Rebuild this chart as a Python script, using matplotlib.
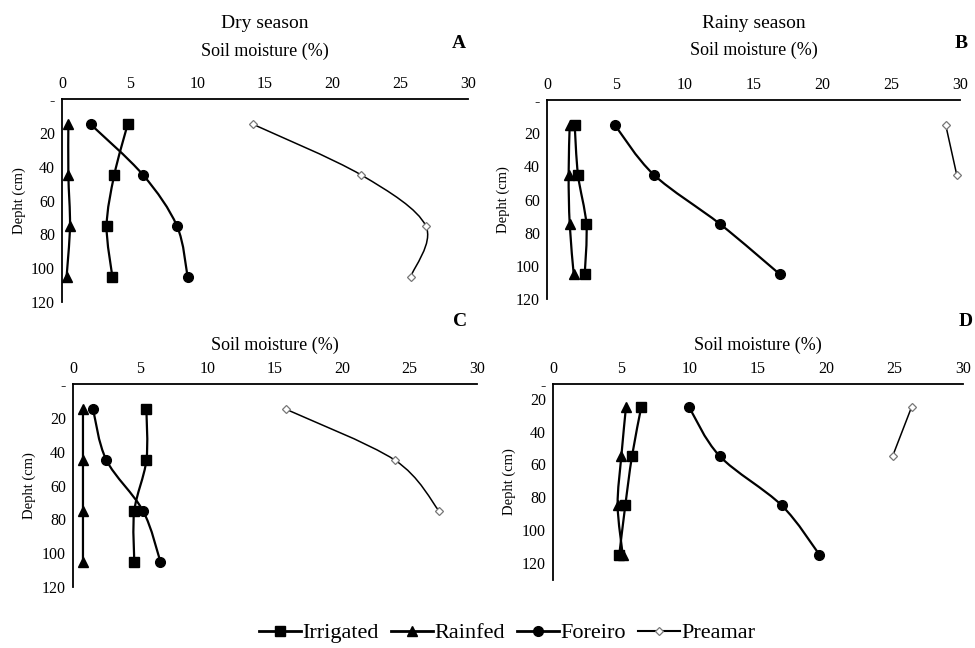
import matplotlib
matplotlib.use("Agg")
import matplotlib.pyplot as plt
from matplotlib.path import Path
from matplotlib.patches import PathPatch
from matplotlib.lines import Line2D
import numpy as np

plt.rcParams['font.family'] = ['Liberation Serif', 'DejaVu Serif']

# ---- data ----
series_names = ["Irrigated", "Rainfed", "Foreiro", "Preamar"]

depth_A = [15, 45, 75, 105]
irrigated_A = [4.85, 3.86, 3.30, 3.72]
rainfed_A = [0.47, 0.47, 0.59, 0.34]
foreiro_A = [2.12, 6.0, 8.49, 9.28]
preamar_A = [14.13, 22.13, 26.88, 25.77]

depth_B = [15, 45, 75, 105]
irrigated_B = [2.01, 2.25, 2.86, 2.74]
rainfed_B = [1.65, 1.57, 1.65, 1.94]
foreiro_B = [4.92, 7.75, 12.6, 16.9]
preamar_B = [28.96, 29.76]

depth_C = [15, 45, 75, 105]
irrigated_C = [5.45, 5.45, 4.55, 4.55]
rainfed_C = [0.74, 0.74, 0.74, 0.74]
foreiro_C = [1.49, 2.48, 5.2, 6.49]
preamar_C = [15.84, 23.9, 27.18]

depth_D = [25, 55, 85, 115]
irrigated_D = [6.46, 5.78, 5.29, 4.85]
rainfed_D = [5.34, 5.0, 4.73, 5.1]
foreiro_D = [9.95, 12.2, 16.73, 19.49]
preamar_D = [26.24, 24.85]

x_ticks = [0, 5, 10, 15, 20, 25, 30]
y_tick_labels = ["-", "20", "40", "60", "80", "100", "120"]

# ---- styles ----
styles = {
    "Irrigated": dict(marker='s', ms=6.5, mfc='black', mec='black', lw=1.6, color='black'),
    "Rainfed": dict(marker='^', ms=6.5, mfc='black', mec='black', lw=1.6, color='black'),
    "Foreiro": dict(marker='o', ms=7, mfc='black', mec='black', lw=1.6, color='black'),
    "Preamar": dict(marker='D', ms=4.5, mfc='white', mec='#777777', mew=0.9, lw=1.1, color='black'),
}


def smooth_path(xs, ys):
    """Excel-like smoothed line (Catmull-Rom as cubic Bezier) through the data."""
    pts = np.column_stack([xs, ys]).astype(float)
    n = len(pts)
    if n < 2:
        return None
    verts = [pts[0]]
    codes = [Path.MOVETO]
    for i in range(n - 1):
        p0 = pts[i - 1] if i > 0 else pts[i]
        p1 = pts[i]
        p2 = pts[i + 1]
        p3 = pts[i + 2] if i + 2 < n else pts[i + 1]
        c1 = p1 + (p2 - p0) / 6.0
        c2 = p2 - (p3 - p1) / 6.0
        verts += [c1, c2, p2]
        codes += [Path.CURVE4] * 3
    return Path(verts, codes)


fig = plt.figure(figsize=(9.75, 6.48), dpi=100)
W, H = 975.0, 648.0


def make_ax(l, r, t, b):
    return fig.add_axes([l / W, 1 - b / H, (r - l) / W, (b - t) / H])


panels = [
    dict(box=(62, 468, 99, 302), ylim=(120, 0), yticks=[0, 20, 40, 60, 80, 100, 120],
         depth=depth_A, data=[irrigated_A, rainfed_A, foreiro_A, preamar_A],
         title="Dry season", title_y=23, xl_y=51, letter="A", letter_xy=(459, 43)),
    dict(box=(547, 960, 100, 299), ylim=(120, 0), yticks=[0, 20, 40, 60, 80, 100, 120],
         depth=depth_B, data=[irrigated_B, rainfed_B, foreiro_B, preamar_B],
         title="Rainy season", title_y=23, xl_y=50, letter="B", letter_xy=(961, 43)),
    dict(box=(73, 477, 384, 587), ylim=(120, 0), yticks=[0, 20, 40, 60, 80, 100, 120],
         depth=depth_C, data=[irrigated_C, rainfed_C, foreiro_C, preamar_C],
         title=None, title_y=None, xl_y=345, letter="C", letter_xy=(460, 321)),
    dict(box=(553, 963, 384, 580), ylim=(130.5, 11), yticks=[11, 20, 40, 60, 80, 100, 120],
         depth=depth_D, data=[irrigated_D, rainfed_D, foreiro_D, preamar_D],
         title=None, title_y=None, xl_y=345, letter="D", letter_xy=(966, 321)),
]

for p in panels:
    l, r, t, b = p["box"]
    ax = make_ax(l, r, t, b)
    ax.set_xlim(0, 30)
    ax.set_ylim(*p["ylim"])
    for name, vals in zip(series_names, p["data"]):
        st = styles[name]
        d = p["depth"][:len(vals)]
        path = smooth_path(vals, d)
        if path is not None:
            patch = PathPatch(path, facecolor='none', edgecolor=st['color'], lw=st['lw'],
                              transform=ax.transData, zorder=2, clip_on=False)
            ax.add_patch(patch)
        ax.plot(vals, d, ls='none', marker=st['marker'], ms=st['ms'], mfc=st['mfc'],
                mec=st['mec'], mew=st.get('mew', 1.0), zorder=3, clip_on=False)
    for s in ['right', 'bottom']:
        ax.spines[s].set_visible(False)
    ax.spines['left'].set_linewidth(1.3)
    ax.spines['top'].set_linewidth(1.3)
    ax.xaxis.tick_top()
    ax.set_xticks(x_ticks)
    ax.set_xticklabels([str(v) for v in x_ticks])
    ax.set_yticks(p["yticks"])
    ax.set_yticklabels(y_tick_labels)
    ax.tick_params(axis='both', length=0, labelsize=11.5, pad=5)
    ax.set_ylabel("Depht (cm)", fontsize=10.5, labelpad=4)
    cx = (l + r) / 2.0 / W
    if p["title"]:
        fig.text(cx, 1 - p["title_y"] / H, p["title"], ha='center', va='center', fontsize=14)
    fig.text(cx, 1 - p["xl_y"] / H, "Soil moisture (%)", ha='center', va='center', fontsize=13)
    lx, ly = p["letter_xy"]
    fig.text(lx / W, 1 - ly / H, p["letter"], ha='center', va='center', fontsize=14,
             fontweight='bold')

handles = []
for name in series_names:
    st = styles[name]
    handles.append(Line2D([0], [0], color=st['color'], lw=st['lw'] + 0.4, marker=st['marker'],
                          ms=st['ms'], mfc=st['mfc'], mec=st['mec'], mew=st.get('mew', 1.0)))
fig.legend(handles, series_names, loc='center', bbox_to_anchor=(507 / W, 1 - 633 / H),
           ncol=4, frameon=False, fontsize=16, handlelength=1.9, handletextpad=0.05,
           columnspacing=0.55, borderaxespad=0, borderpad=0)

fig.savefig("out.png", dpi=100)
